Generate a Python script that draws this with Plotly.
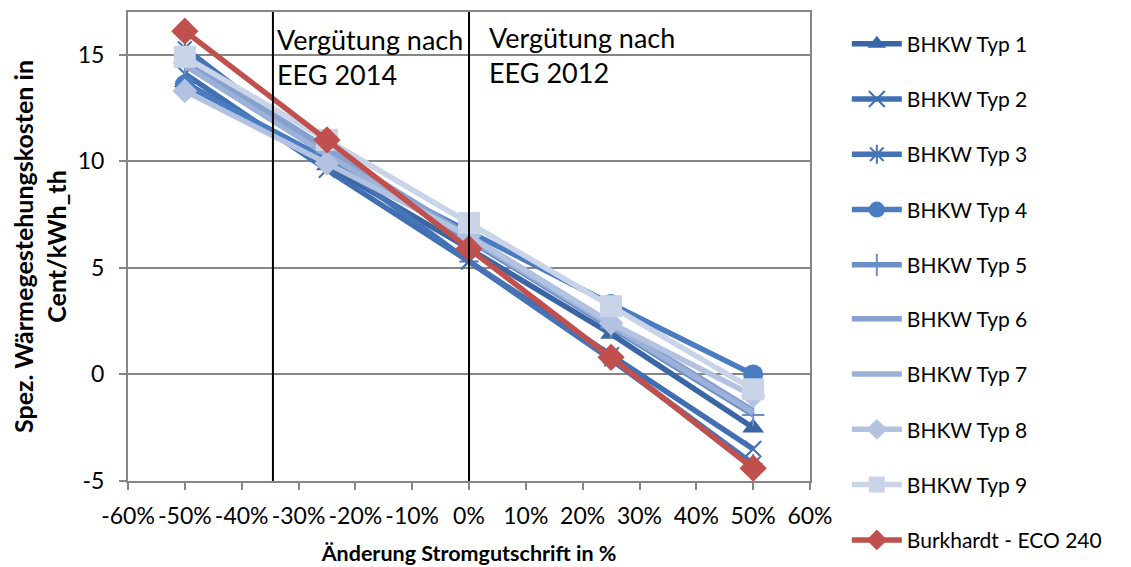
import plotly.graph_objects as go

x_vals = [-0.5, -0.25, 0.0, 0.25, 0.5]
names = ["BHKW Typ 1", "BHKW Typ 2", "BHKW Typ 3", "BHKW Typ 4", "BHKW Typ 5",
         "BHKW Typ 6", "BHKW Typ 7", "BHKW Typ 8", "BHKW Typ 9", "Burkhardt - ECO 240"]
typ1 = [13.7, 9.8, 5.9, 1.9, -2.5]
typ2 = [14.1, 9.6, 5.3, 0.9, -3.5]
typ3 = [15.3, 10.2, 5.3, 0.7, -4.2]
typ4 = [13.6, 10.1, 6.7, 3.3, 0.0]
typ5 = [14.6, 10.4, 6.3, 2.2, -1.9]
typ6 = [14.8, 10.6, 6.5, 2.4, -1.7]
typ7 = [14.5, 10.3, 6.4, 2.3, -1.8]
typ8 = [13.3, 9.9, 6.5, 2.4, -1.0]
typ9 = [14.9, 11.0, 7.1, 3.2, -0.7]
burkhardt = [16.1, 11.0, 5.9, 0.8, -4.4]
series = [typ1, typ2, typ3, typ4, typ5, typ6, typ7, typ8, typ9, burkhardt]

x_tickvals = [-0.6, -0.5, -0.4, -0.3, -0.2, -0.1, 0.0, 0.1, 0.2, 0.3, 0.4, 0.5, 0.6]
x_ticktext = ["-60%", "-50%", "-40%", "-30%", "-20%", "-10%", "0%", "10%", "20%", "30%", "40%", "50%", "60%"]
y_tickvals = [-5, 0, 5, 10, 15]
y_ticktext = ["-5", "0", "5", "10", "15"]
eeg2014_x = -0.345
eeg2012_x = 0.0

colors = ["#3B66A6", "#4170B2", "#4573B6", "#4A7CC2", "#6D8FC8",
          "#86A0CF", "#9CB1D7", "#B2C2E0", "#C9D4E9", "#C0504D"]
symbols = ["triangle-up", "x-thin", "asterisk", "circle", "cross-thin",
           None, None, "diamond", "square", "diamond"]
sizes = [19, 16, 16, 20, 16, 0, 0, 19, 22, 21]

FONT = "Lato"
fig = go.Figure()
for i, (name, ys, c, sym, sz) in enumerate(zip(names, series, colors, symbols, sizes)):
    if sym is None:
        mode = "lines"
        marker = dict()
    else:
        mode = "lines+markers"
        marker = dict(symbol=sym, size=sz, color=c,
                      line=dict(color=c, width=2 if "thin" in sym or sym == "asterisk" else 0))
    fig.add_trace(go.Scatter(x=x_vals, y=ys, name=name, mode=mode,
                             line=dict(color=c, width=5.5), marker=marker,
                             legendgroup=name,
                             legend="legend" if i < 5 else "legend2"))

fig.add_shape(type="line", xref="x", yref="paper", x0=eeg2014_x, x1=eeg2014_x, y0=0, y1=1,
              line=dict(color="black", width=2))
fig.add_shape(type="line", xref="x", yref="paper", x0=eeg2012_x, x1=eeg2012_x, y0=0, y1=1,
              line=dict(color="black", width=2))

fig.add_annotation(x=eeg2014_x, y=1, xref="x", yref="paper", xanchor="left", yanchor="top",
                   xshift=2, yshift=-9, showarrow=False, align="left",
                   text="Vergütung nach<br>EEG 2014", font=dict(family=FONT, size=27, color="black"))
fig.add_annotation(x=eeg2012_x, y=1, xref="x", yref="paper", xanchor="left", yanchor="top",
                   xshift=18, yshift=-7, showarrow=False, align="left",
                   text="Vergütung nach<br>EEG 2012", font=dict(family=FONT, size=27, color="black"))

legend_common = dict(xanchor="left", yanchor="top", font=dict(family=FONT, size=21),
                     tracegroupgap=25, itemwidth=50, bgcolor="rgba(0,0,0,0)")

fig.update_layout(
    width=1123, height=559,
    margin=dict(l=120, r=321, t=4, b=86, autoexpand=False),
    paper_bgcolor="white", plot_bgcolor="white",
    font=dict(family=FONT, size=21, color="black"),
    showlegend=True,
    legend=dict(x=1.054, y=0.9755, **legend_common),
    legend2=dict(x=1.054, y=0.389, **legend_common),
    xaxis=dict(range=[-0.6, 0.6], tickvals=x_tickvals, ticktext=x_ticktext,
               showgrid=False, zeroline=False, showline=True, linecolor="#868686",
               linewidth=2, mirror=True, ticks="outside", ticklen=7, tickcolor="#868686",
               tickwidth=2, tickfont=dict(family=FONT, size=23), ticklabelstandoff=6,
               automargin=False,
               title=dict(text="<b>Änderung Stromgutschrift in %</b>",
                          font=dict(family=FONT, size=21.5), standoff=18)),
    yaxis=dict(range=[-5, 17], tickvals=y_tickvals, ticktext=y_ticktext,
               showgrid=True, gridcolor="#868686", gridwidth=1.5, zeroline=False,
               showline=True, linecolor="#868686", linewidth=2, mirror=True,
               ticks="outside", ticklen=7, tickcolor="#868686", tickwidth=2,
               tickfont=dict(family=FONT, size=23), ticklabelstandoff=10,
               automargin=False,
               title=dict(text="<b>Spez. Wärmegestehungskosten in<br>Cent/kWh_th</b>",
                          font=dict(family=FONT, size=25), standoff=14)),
)

fig.write_html("out.html")
